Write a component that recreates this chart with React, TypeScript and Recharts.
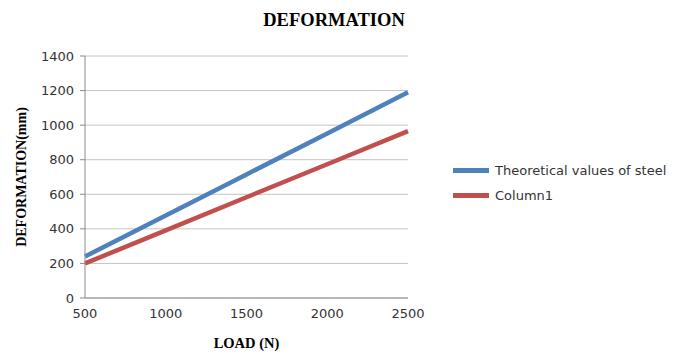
import React from 'react';
import { LineChart, Line, XAxis, YAxis, CartesianGrid, Legend } from 'recharts';

// load steps (N) and deformation readings (mm)
const loads = [500, 1000, 1500, 2000, 2500];
const steelTheory = [240, 477, 715, 952, 1190];
const column1 = [200, 391, 583, 774, 965];

const seriesNames = ['Theoretical values of steel', 'Column1'];
const loadTicks = [500, 1000, 1500, 2000, 2500];
const deformTicks = [0, 200, 400, 600, 800, 1000, 1200, 1400];

const rows = loads.map((load, i) => ({
  load,
  steel: steelTheory[i],
  column1: column1[i],
}));

const serif = '"Liberation Serif", "Times New Roman", serif';
const sans = '"DejaVu Sans", sans-serif';
const axisGray = '#8c8c8c';
const gridGray = '#c4c4c4';
const textColor = '#333333';

function LegendList({ payload }: any) {
  // keep series in plotting order rather than alphabetical
  const items = [...(payload || [])].sort(
    (a: any, b: any) => seriesNames.indexOf(a.value) - seriesNames.indexOf(b.value)
  );
  return (
    <div style={{ fontFamily: sans, fontSize: 13, color: textColor }}>
      {items.map((item: any) => (
        <div key={item.value} style={{ display: 'flex', alignItems: 'center', height: 25 }}>
          <span style={{ display: 'inline-block', width: 36, height: 5, background: item.color, marginRight: 6 }} />
          <span>{item.value}</span>
        </div>
      ))}
    </div>
  );
}

function YTitle({ viewBox }: any) {
  const cx = viewBox.x + 21;
  const cy = viewBox.y + viewBox.height / 2;
  return (
    <text
      x={cx}
      y={cy}
      transform={`rotate(-90, ${cx}, ${cy})`}
      textAnchor="middle"
      dominantBaseline="central"
      fontFamily={serif}
      fontWeight="bold"
      fontSize={14}
      fill="#000"
    >
      DEFORMATION(mm)
    </text>
  );
}

function XTitle({ viewBox }: any) {
  return (
    <text
      x={viewBox.x + viewBox.width / 2}
      y={viewBox.y + 50}
      textAnchor="middle"
      fontFamily={serif}
      fontWeight="bold"
      fontSize={14.5}
      fill="#000"
    >
      LOAD (N)
    </text>
  );
}

export default function App() {
  return (
    <div style={{ position: 'absolute', left: 0, top: 0, width: 685, height: 358, background: '#fff' }}>
      <div
        style={{
          position: 'absolute',
          left: 334,
          top: 11,
          transform: 'translateX(-50%)',
          fontFamily: serif,
          fontWeight: 'bold',
          fontSize: 18.5,
          lineHeight: '18px',
          whiteSpace: 'nowrap',
        }}
      >
        DEFORMATION
      </div>
      <LineChart width={685} height={358} data={rows} margin={{ top: 56, right: 277, bottom: 0, left: 0 }}>
        <CartesianGrid vertical={false} stroke={gridGray} />
        <XAxis
          dataKey="load"
          type="number"
          domain={[500, 2500]}
          ticks={loadTicks}
          height={60}
          stroke={axisGray}
          tickLine={false}
          tickMargin={5}
          tick={{ fontFamily: sans, fontSize: 13, fill: textColor }}
          label={{ content: XTitle }}
        />
        <YAxis
          type="number"
          domain={[0, 1400]}
          ticks={deformTicks}
          width={85}
          stroke={axisGray}
          tickSize={5}
          tickMargin={6}
          tick={{ fontFamily: sans, fontSize: 13, fill: textColor }}
          label={{ content: YTitle }}
        />
        <Legend
          layout="vertical"
          align="center"
          verticalAlign="middle"
          content={LegendList}
          wrapperStyle={{ left: 453, top: 158, width: 230 }}
        />
        <Line
          dataKey="steel"
          name={seriesNames[0]}
          stroke="#4F81BD"
          strokeWidth={4.5}
          dot={false}
          isAnimationActive={false}
        />
        <Line
          dataKey="column1"
          name={seriesNames[1]}
          stroke="#C0504D"
          strokeWidth={4.5}
          dot={false}
          isAnimationActive={false}
        />
      </LineChart>
    </div>
  );
}
